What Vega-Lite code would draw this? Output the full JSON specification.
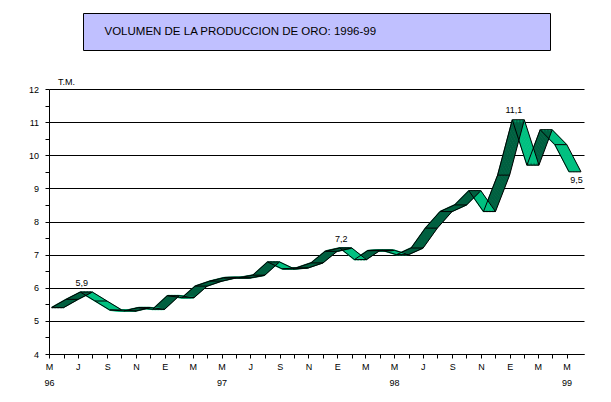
{
  "$schema": "https://vega.github.io/schema/vega-lite/v6.json",
  "background": "white",
  "padding": {"left": 28, "top": 12, "right": 5, "bottom": 5},
  "config": {
    "font": "Liberation Sans",
    "view": {"stroke": null},
    "locale": {"number": {"decimal": ",", "thousands": ".", "grouping": [3], "currency": ["", " €"]}}
  },
  "bounds": "flush",
  "center": true,
  "spacing": 39,
  "vconcat": [
    {
      "width": 467, "height": 37,
      "view": {"fill": "#C0C0FF", "stroke": "black", "strokeWidth": 1},
      "data": {"values": [{"t": "VOLUMEN  DE LA PRODUCCION DE ORO: 1996-99"}]},
      "mark": {"type": "text", "align": "left", "baseline": "middle", "dx": -212, "fontSize": 11.5, "color": "black"},
      "encoding": {"text": {"field": "t"}}
    },
    {
      "width": 535,
      "height": 265,
      "data": {
        "values": [
          {"date": "1996-05-01", "v": 5.4},
          {"date": "1996-06-01", "v": 5.65},
          {"date": "1996-07-01", "v": 5.87},
          {"date": "1996-08-01", "v": 5.6},
          {"date": "1996-09-01", "v": 5.33},
          {"date": "1996-10-01", "v": 5.3},
          {"date": "1996-11-01", "v": 5.4},
          {"date": "1996-12-01", "v": 5.35},
          {"date": "1997-01-01", "v": 5.76},
          {"date": "1997-02-01", "v": 5.7},
          {"date": "1997-03-01", "v": 6.05},
          {"date": "1997-04-01", "v": 6.2},
          {"date": "1997-05-01", "v": 6.3},
          {"date": "1997-06-01", "v": 6.3},
          {"date": "1997-07-01", "v": 6.38},
          {"date": "1997-08-01", "v": 6.78},
          {"date": "1997-09-01", "v": 6.57},
          {"date": "1997-10-01", "v": 6.6},
          {"date": "1997-11-01", "v": 6.75},
          {"date": "1997-12-01", "v": 7.1},
          {"date": "1998-01-01", "v": 7.2},
          {"date": "1998-02-01", "v": 6.85},
          {"date": "1998-03-01", "v": 7.12},
          {"date": "1998-04-01", "v": 7.13},
          {"date": "1998-05-01", "v": 7.0},
          {"date": "1998-06-01", "v": 7.2},
          {"date": "1998-07-01", "v": 7.8},
          {"date": "1998-08-01", "v": 8.3},
          {"date": "1998-09-01", "v": 8.5},
          {"date": "1998-10-01", "v": 8.93},
          {"date": "1998-11-01", "v": 8.3},
          {"date": "1998-12-01", "v": 9.4},
          {"date": "1999-01-01", "v": 11.07},
          {"date": "1999-02-01", "v": 9.7},
          {"date": "1999-03-01", "v": 10.77},
          {"date": "1999-04-01", "v": 10.32},
          {"date": "1999-05-01", "v": 9.5}
        ],
        "format": {"parse": {"date": "date"}}
      },
      "transform": [
        {"window": [{"op": "lead", "field": "v", "as": "nv"}, {"op": "lead", "field": "date", "as": "nd"}], "sort": [{"field": "date", "order": "ascending"}]}
      ],
      "encoding": {
        "x": {
          "field": "date", "type": "temporal",
          "scale": {"type": "utc", "domain": [{"year": 1996, "month": 5, "date": 1, "utc": true}, {"year": 1999, "month": 6, "date": 7, "utc": true}]},
          "axis": {
            "title": null, "grid": false,
            "tickCount": {"interval": "month", "step": 1},
            "tickSize": 4, "tickColor": "black", "domainColor": "black",
            "labelPadding": 4, "labelFontSize": 9, "labelColor": "black",
            "labelOverlap": false, "labelFlush": false, "labelBound": false,
            "labelLineHeight": 16.7,
            "labelExpr": "datum.value > utc(1999,4,15) || utcmonth(datum.value) % 2 == 1 ? '' : (utcmonth(datum.value) == 4 ? ['M', utcFormat(datum.value, '%y')] : ['E','F','M','A','M','J','J','A','S','O','N','D'][utcmonth(datum.value)])",
            "tickOpacity": {"condition": {"test": "datum.value > utc(1999,4,15)", "value": 0}, "value": 1}
          }
        },
        "y": {
          "field": "v", "type": "quantitative",
          "scale": {"domain": [4, 12], "nice": false, "zero": false},
          "axis": {
            "title": "T.M.", "titleAngle": 0, "titleAlign": "left", "titleBaseline": "bottom",
            "titleX": 8.5, "titleY": -2.5, "titleFontSize": 9, "titleFontWeight": "normal", "titleColor": "black",
            "values": [4, 4.5, 5, 5.5, 6, 6.5, 7, 7.5, 8, 8.5, 9, 9.5, 10, 10.5, 11, 11.5, 12],
            "labelExpr": "datum.value % 1 == 0 ? format(datum.value, 'd') : ''",
            "grid": true, "gridColor": "black",
            "gridOpacity": {"condition": {"test": "datum.value % 1 != 0", "value": 0}, "value": 1},
            "tickSize": 4, "tickColor": "black", "domainColor": "black",
            "labelPadding": 6.5, "labelFontSize": 9, "labelColor": "black"
          }
        }
      },
      "layer": [
        {"transform": [{"filter": "datum.nv != null"}], "mark": {"type": "rule", "xOffset": 3, "x2Offset": 3, "strokeWidth": 2},
         "encoding": {"x2": {"field": "nd"}, "y2": {"field": "nv"}, "color": {"condition": {"test": "datum.nv < datum.v", "value": "#00C080"}, "value": "#006040"}}},
        {"transform": [{"filter": "datum.nv != null"}], "mark": {"type": "rule", "xOffset": 4.5, "x2Offset": 4.5, "strokeWidth": 2},
         "encoding": {"x2": {"field": "nd"}, "y2": {"field": "nv"}, "color": {"condition": {"test": "datum.nv < datum.v", "value": "#00C080"}, "value": "#006040"}}},
        {"transform": [{"filter": "datum.nv != null"}], "mark": {"type": "rule", "xOffset": 6, "x2Offset": 6, "strokeWidth": 2},
         "encoding": {"x2": {"field": "nd"}, "y2": {"field": "nv"}, "color": {"condition": {"test": "datum.nv < datum.v", "value": "#00C080"}, "value": "#006040"}}},
        {"transform": [{"filter": "datum.nv != null"}], "mark": {"type": "rule", "xOffset": 7.5, "x2Offset": 7.5, "strokeWidth": 2},
         "encoding": {"x2": {"field": "nd"}, "y2": {"field": "nv"}, "color": {"condition": {"test": "datum.nv < datum.v", "value": "#00C080"}, "value": "#006040"}}},
        {"transform": [{"filter": "datum.nv != null"}], "mark": {"type": "rule", "xOffset": 9, "x2Offset": 9, "strokeWidth": 2},
         "encoding": {"x2": {"field": "nd"}, "y2": {"field": "nv"}, "color": {"condition": {"test": "datum.nv < datum.v", "value": "#00C080"}, "value": "#006040"}}},
        {"transform": [{"filter": "datum.nv != null"}], "mark": {"type": "rule", "xOffset": 10.5, "x2Offset": 10.5, "strokeWidth": 2},
         "encoding": {"x2": {"field": "nd"}, "y2": {"field": "nv"}, "color": {"condition": {"test": "datum.nv < datum.v", "value": "#00C080"}, "value": "#006040"}}},
        {"transform": [{"filter": "datum.nv != null"}], "mark": {"type": "rule", "xOffset": 12, "x2Offset": 12, "strokeWidth": 2},
         "encoding": {"x2": {"field": "nd"}, "y2": {"field": "nv"}, "color": {"condition": {"test": "datum.nv < datum.v", "value": "#00C080"}, "value": "#006040"}}},
        {"transform": [{"filter": "datum.nv != null"}], "mark": {"type": "rule", "xOffset": 13.5, "x2Offset": 13.5, "strokeWidth": 2},
         "encoding": {"x2": {"field": "nd"}, "y2": {"field": "nv"}, "color": {"condition": {"test": "datum.nv < datum.v", "value": "#00C080"}, "value": "#006040"}}},
        {"transform": [{"filter": "datum.nv != null"}], "mark": {"type": "rule", "xOffset": 2.5, "x2Offset": 2.5, "strokeWidth": 1, "color": "black"},
         "encoding": {"x2": {"field": "nd"}, "y2": {"field": "nv"}}},
        {"transform": [{"filter": "datum.nv != null"}], "mark": {"type": "rule", "xOffset": 14.5, "x2Offset": 14.5, "strokeWidth": 1, "color": "black"},
         "encoding": {"x2": {"field": "nd"}, "y2": {"field": "nv"}}},
        {"mark": {"type": "rule", "xOffset": 2.5, "x2Offset": 14.5, "strokeWidth": 1, "color": "black"},
         "encoding": {"x2": {"field": "date"}}},
        {"transform": [{"filter": "(utcyear(datum.date)==1996 && utcmonth(datum.date)==6) || (utcyear(datum.date)==1998 && utcmonth(datum.date)==0) || (utcyear(datum.date)==1999 && utcmonth(datum.date)==0)"}],
         "mark": {"type": "text", "baseline": "middle", "dx": 4, "dy": -9.5, "fontSize": 9, "color": "black"},
         "encoding": {"text": {"field": "v", "type": "quantitative", "format": ".1f"}}},
        {"transform": [{"filter": "utcyear(datum.date)==1999 && utcmonth(datum.date)==4"}],
         "mark": {"type": "text", "baseline": "middle", "dx": 10, "dy": 8, "fontSize": 9, "color": "black"},
         "encoding": {"text": {"field": "v", "type": "quantitative", "format": ".1f"}}}
      ]
    }
  ]
}
